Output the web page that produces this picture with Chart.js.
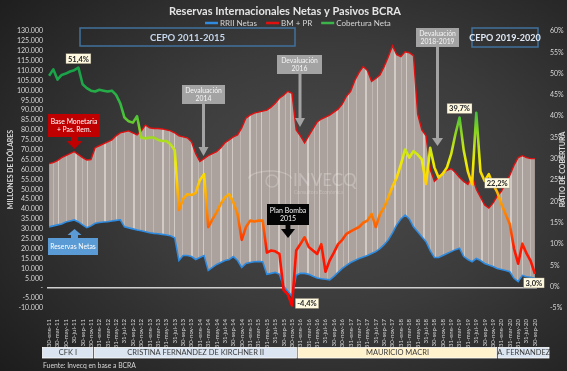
<!DOCTYPE html>
<html>
<head>
<meta charset="utf-8">
<script src="https://cdn.jsdelivr.net/npm/chart.js@4.4.0/dist/chart.umd.min.js"></script>
<style>
html, body { margin: 0; padding: 0; }
body {
    width: 567px; height: 371px; overflow: hidden;
    background: radial-gradient(ellipse 75% 80% at 58% 48%, #4b4b4b 0%, #3b3b3b 45%, #282828 80%, #1d1d1d 100%);
}
#wrap { position: relative; width: 567px; height: 371px; }
</style>
</head>
<body>
<div id="wrap"><canvas id="reservasChart" width="567" height="371"></canvas></div>
<script>
// monthly categories (ene-11 .. sep-20)
const categories = [
    '30-ene-11','28-feb-11','30-mar-11','30-abr-11','30-may-11','30-jun-11','30-jul-11','30-ago-11','30-sep-11','30-oct-11','30-nov-11','30-dic-11',
    '31-ene-12','29-feb-12','31-mar-12','30-abr-12','31-may-12','30-jun-12','31-jul-12','31-ago-12','30-sep-12','31-oct-12','30-nov-12','31-dic-12',
    '31-ene-13','28-feb-13','31-mar-13','30-abr-13','31-may-13','30-jun-13','31-jul-13','31-ago-13','30-sep-13','31-oct-13','30-nov-13','31-dic-13',
    '31-ene-14','28-feb-14','31-mar-14','30-abr-14','31-may-14','30-jun-14','31-jul-14','31-ago-14','30-sep-14','31-oct-14','30-nov-14','31-dic-14',
    '31-ene-15','28-feb-15','31-mar-15','30-abr-15','31-may-15','30-jun-15','31-jul-15','31-ago-15','30-sep-15','31-oct-15','30-nov-15','31-dic-15',
    '31-ene-16','29-feb-16','31-mar-16','30-abr-16','31-may-16','30-jun-16','31-jul-16','31-ago-16','30-sep-16','31-oct-16','30-nov-16','31-dic-16',
    '31-ene-17','28-feb-17','31-mar-17','30-abr-17','31-may-17','30-jun-17','31-jul-17','31-ago-17','30-sep-17','31-oct-17','30-nov-17','31-dic-17',
    '31-ene-18','28-feb-18','31-mar-18','30-abr-18','31-may-18','30-jun-18','31-jul-18','31-ago-18','30-sep-18','31-oct-18','30-nov-18','31-dic-18',
    '31-ene-19','28-feb-19','31-mar-19','30-abr-19','31-may-19','30-jun-19','31-jul-19','31-ago-19','30-sep-19','31-oct-19','30-nov-19','31-dic-19',
    '31-ene-20','29-feb-20','31-mar-20','30-abr-20','31-may-20','30-jun-20','31-jul-20','31-ago-20','30-sep-20'
];

// Base monetaria + pasivos remunerados (millones de USD)
const bmPr = [
    63000, 63500, 64500, 66000, 67000, 68000, 69000, 67500, 66000, 64800, 65000, 71000,
    72000, 73000, 74000, 75000, 77000, 78500, 79000, 79500, 78500, 77500, 79500, 82500,
    81000, 80700, 80700, 80500, 80000, 79500, 78500, 77000, 76500, 76000, 74000, 68000,
    64000, 65500, 67000, 68000, 69000, 71000, 73500, 75000, 76500, 77500, 81000, 86000,
    87500, 88500, 89000, 89500, 90000, 91500, 93500, 96000, 97500, 99500, 98500, 80000,
    77000, 73500, 77000, 80500, 84000, 85500, 86500, 87500, 89000, 90500, 93000, 97000,
    99500, 105000, 109000, 112000, 110000, 104500, 106000, 107700, 112000, 117000, 122500, 118000,
    117000, 119500, 119000, 117500, 88000, 80000, 77000, 60000, 54000, 56000, 58500, 59500,
    60500, 58500, 56000, 54000, 52500, 57000, 50000, 46000, 42000, 40500, 43000, 46500,
    49000, 53000, 57000, 62000, 66000, 67000, 66000, 65500, 65500
];

// Reservas internacionales netas (millones de USD)
const rriiNetas = [
    31000, 31500, 32000, 32500, 33500, 34000, 34500, 33500, 32000, 30600, 31500, 32800,
    33200, 33500, 33600, 34000, 34300, 34600, 31000, 30500, 30000, 29400, 29000, 28500,
    28000, 27700, 27500, 27200, 26900, 26500, 25500, 14000, 16500, 16500, 16000, 14500,
    15500, 16500, 9000, 10500, 12000, 13000, 14000, 14500, 16000, 14000, 10500, 12500,
    13000, 13400, 13500, 13400, 7000, 7500, 8000, 7000, 1000, -1500, -4000, 6500,
    7500, 7500, 7000, 6000, 5200, 4800, 4500, 4200, 6000, 8000, 10000, 11500,
    13000, 14000, 15000, 15800, 16500, 17500, 18500, 20000, 22000, 24500, 28000, 32000,
    35000, 37000, 35000, 31000, 28500, 26000, 23500, 19000, 15500, 15500, 16500, 17500,
    18500, 19500, 20200, 16000, 14500, 13400, 15000, 14000, 12500, 11700, 11000, 10000,
    9500, 9000, 8300, 5000, 3300, 6500, 5800, 5500, 5000
];

// Cobertura neta (%)
const cobertura = [
    49.5, 51.0, 48.6, 49.7, 50.0, 50.5, 50.8, 51.4, 47.5, 46.6, 46.0, 45.8,
    46.2, 46.0, 45.8, 46.0, 45.0, 43.0, 39.7, 38.8, 38.5, 40.0, 35.0, 34.8,
    35.0, 35.0, 34.5, 34.2, 34.2, 33.4, 32.0, 18.0, 20.6, 21.7, 21.5, 22.0,
    25.0, 26.4, 14.0, 15.8, 17.5, 19.5, 21.0, 21.7, 19.8, 17.0, 11.0, 14.0,
    15.5, 15.3, 15.5, 15.5, 8.0, 8.5, 8.3, 7.7, -0.8, -1.8, -4.4, 8.5,
    10.0, 11.6, 9.3, 8.5, 7.7, 10.0, 3.5, 6.2, 8.0, 10.0, 11.0, 12.4,
    13.0, 13.5, 14.0, 15.0, 15.5, 17.1, 14.0, 17.0, 18.6, 21.0, 23.5, 25.6,
    28.7, 32.2, 30.3, 31.8, 31.0, 29.9, 24.1, 32.6, 28.0, 25.6, 26.5, 28.0,
    31.1, 35.7, 39.7, 32.0, 27.0, 24.0, 40.8, 27.0, 24.8, 26.4, 24.0, 22.2,
    19.4, 17.0, 14.7, 9.0, 5.4, 10.1, 7.8, 6.0, 3.0
];

// puntos de cobertura con etiqueta
const labeledPoints = [7, 58, 98, 107, 116];

// periodos de gobierno (limites en indice de mes)
const periodNames = ['CFK I', 'CRISTINA FERNANDEZ DE KIRCHNER II', 'MAURICIO MACRI', 'A. FERNANDEZ'];
const periodEdges = [-1.7, 10.7, 59.3, 107.1, 119.6];
const periodFills = ['#dbe5f1', '#dbe5f1', '#fff2cc', '#dbe5f1'];

const FONT = 'Lato, "Open Sans", sans-serif';

function fmtMiles(v) {
    if (v === 0) return '-';
    const s = String(Math.abs(v)).replace(/\B(?=(\d{3})+(?!\d))/g, '.');
    return (v < 0 ? '-' : '') + s;
}

function fmtPct(v) {
    return v.toFixed(1).replace('.', ',') + '%';
}

const canvas = document.getElementById('reservasChart');
const ctx = canvas.getContext('2d');

// textura rayada del area entre reservas y pasivos
function stripePattern() {
    const c = document.createElement('canvas');
    c.width = 29; c.height = 4;
    const p = c.getContext('2d');
    p.fillStyle = '#aca29d';
    p.fillRect(0, 0, 29, 4);
    p.fillStyle = 'rgba(214,206,202,0.9)';
    p.fillRect(0, 0, 1, 4);
    p.fillRect(17, 0, 2, 4);
    p.fillStyle = 'rgba(206,198,194,0.6)';
    p.fillRect(8, 0, 1, 4);
    p.fillRect(24, 0, 1, 4);
    return ctx.createPattern(c, 'repeat');
}

// color de la cobertura segun nivel
function coberturaGradient(context) {
    const chart = context.chart;
    const area = chart.chartArea;
    if (!area) return '#2ca02c';
    const y2 = chart.scales.y2;
    const lo = -5, hi = 55;
    const g = chart.ctx.createLinearGradient(0, y2.getPixelForValue(lo), 0, y2.getPixelForValue(hi));
    const stops = [
        [-5, '#ff0000'], [9, '#ff1a00'], [13, '#ff5000'], [17, '#ff8000'], [21, '#ffa800'],
        [25, '#ffd400'], [29, '#eeee00'], [33, '#bfe31a'], [37, '#7fd126'], [41, '#3fbf3c'],
        [47, '#1fa84a'], [55, '#139c46']
    ];
    stops.forEach(s => g.addColorStop((s[0] - lo) / (hi - lo), s[1]));
    return g;
}

// cajas de texto y flechas
const callouts = [
    { lines: ['CEPO 2011-2015'], x: 80, y: 28, w: 215, h: 18, stroke: '#41719c', color: '#c5d6ec', font: 'bold 9.5px ' + FONT },
    { lines: ['CEPO 2019-2020'], x: 472, y: 28, w: 66, h: 19, stroke: '#41719c', color: '#dfe8f4', font: 'bold 9px ' + FONT },
    { lines: ['Devaluación', '2014'], x: 182, y: 85, w: 43, h: 19, fill: '#a3a3a3', color: '#f4f4f4', font: '6.8px ' + FONT,
      arrow: { x: 203.5, tip: 156, shaft: 3, head: 10, headLen: 9, color: '#a3a3a3' } },
    { lines: ['Devaluación', '2016'], x: 277, y: 55, w: 45, h: 19, fill: '#a3a3a3', color: '#f4f4f4', font: '6.8px ' + FONT,
      arrow: { x: 300, tip: 127, shaft: 3, head: 10, headLen: 9, color: '#a3a3a3' } },
    { lines: ['Devaluación', '2018-2019'], x: 416, y: 28, w: 43, h: 19, fill: '#a3a3a3', color: '#f4f4f4', font: '6.8px ' + FONT,
      arrow: { x: 437.5, tip: 146, shaft: 3, head: 11, headLen: 8, color: '#a3a3a3' } },
    { lines: ['Plan Bomba', '2015'], x: 267, y: 204, w: 42, h: 21, fill: '#050505', color: '#f4f4f4', font: '7px ' + FONT,
      arrow: { x: 288, tip: 238, shaft: 5, head: 14, headLen: 9, color: '#050505' } },
    { lines: ['Base Monetaria', '+ Pas. Rem.'], x: 48, y: 114, w: 52, h: 23, fill: '#c00000', color: '#ffffff', font: '6.8px ' + FONT,
      arrow: { x: 74.5, tip: 149, shaft: 7, head: 16, headLen: 8, color: '#c00000' } },
    { lines: ['Reservas Netas'], x: 48, y: 238, w: 50, h: 17, fill: '#5b9bd5', color: '#ffffff', font: '6.8px ' + FONT,
      arrow: { x: 74.5, tip: 229, shaft: 7, head: 14, headLen: 6, color: '#5b9bd5', up: true } }
];

const labelOffsets = { 7: [0, -9], 58: [15, -2], 98: [0, -9], 107: [0, -9], 116: [-1, 9] };

function drawArrow(c, a, from) {
    const dir = a.tip > from ? 1 : -1;
    const base = a.tip - dir * a.headLen;
    c.fillStyle = a.color;
    c.fillRect(a.x - a.shaft / 2, Math.min(from, base), a.shaft, Math.abs(base - from));
    c.beginPath();
    c.moveTo(a.x - a.head / 2, base);
    c.lineTo(a.x + a.head / 2, base);
    c.lineTo(a.x, a.tip);
    c.closePath();
    c.fill();
}

function drawLines(c, lines, cx, cy, font, color) {
    c.font = font;
    c.fillStyle = color;
    c.textAlign = 'center';
    c.textBaseline = 'middle';
    const size = parseFloat(font.match(/([\d.]+)px/)[1]);
    const lh = size * 1.2;
    const y0 = cy - (lines.length - 1) * lh / 2;
    lines.forEach((t, i) => c.fillText(t, cx, y0 + i * lh));
}

const decorPlugin = {
    id: 'decor',
    afterDatasetsDraw(chart) {
        // marca de agua
        const c = chart.ctx;
        c.save();
        c.strokeStyle = 'rgba(255,255,255,0.22)';
        c.lineWidth = 1.5;
        c.beginPath();
        c.ellipse(270, 180, 22, 9, 0, Math.PI * 1.05, Math.PI * 1.95);
        c.stroke();
        c.beginPath();
        c.arc(272, 181, 6, 0, Math.PI * 2);
        c.stroke();
        c.font = '17px ' + FONT;
        c.fillStyle = 'rgba(255,255,255,0.25)';
        c.textAlign = 'left';
        c.textBaseline = 'middle';
        c.fillText('INVECQ', 293, 181);
        c.font = '5px ' + FONT;
        c.fillText('Consultora Económica', 294, 192);
        c.restore();
    },
    afterDraw(chart) {
        const c = chart.ctx;
        const xs = chart.scales.x;
        const y2 = chart.scales.y2;
        const area = chart.chartArea;
        c.save();

        // titulo
        c.font = 'bold 11px ' + FONT;
        c.fillStyle = '#e4e4e4';
        c.textAlign = 'center';
        c.textBaseline = 'middle';
        c.fillText('Reservas Internacionales Netas y Pasivos BCRA', 285, 11);

        // leyenda
        const legendColors = ['#2e8be0', '#e01010', '#3cb44a'];
        let lx = 205;
        c.font = '8px ' + FONT;
        c.textAlign = 'left';
        chart.data.datasets.forEach((ds, i) => {
            c.strokeStyle = legendColors[i];
            c.lineWidth = 2.5;
            c.beginPath();
            c.moveTo(lx, 23);
            c.lineTo(lx + 13, 23);
            c.stroke();
            c.fillStyle = '#d6d6d6';
            c.fillText(ds.label, lx + 15, 23.5);
            lx += 15 + c.measureText(ds.label).width + 9;
        });

        // titulo eje derecho
        c.save();
        c.translate(562.5, (area.top + area.bottom) / 2);
        c.rotate(-Math.PI / 2);
        c.font = 'bold 7px ' + FONT;
        c.fillStyle = '#d6d6d6';
        c.textAlign = 'center';
        c.fillText('RATIO DE COBERTURA', 0, 0);
        c.restore();

        // cajas y flechas
        callouts.forEach(b => {
            if (b.fill) {
                c.fillStyle = b.fill;
                c.fillRect(b.x, b.y, b.w, b.h);
            }
            if (b.stroke) {
                c.strokeStyle = b.stroke;
                c.lineWidth = 1.5;
                c.strokeRect(b.x, b.y, b.w, b.h);
            }
            drawLines(c, b.lines, b.x + b.w / 2, b.y + b.h / 2 + 0.5, b.font, b.color);
            if (b.arrow) drawArrow(c, b.arrow, b.arrow.up ? b.y : b.y + b.h);
        });

        // etiquetas de cobertura
        c.font = 'bold 7.5px ' + FONT;
        labeledPoints.forEach(i => {
            const t = fmtPct(cobertura[i]);
            const off = labelOffsets[i];
            const px = xs.getPixelForValue(i) + off[0];
            const py = y2.getPixelForValue(cobertura[i]) + off[1];
            const w = c.measureText(t).width + 4;
            c.fillStyle = '#fff9e0';
            c.fillRect(px - w / 2, py - 5, w, 10);
            c.strokeStyle = 'rgba(120,110,90,0.6)';
            c.lineWidth = 0.5;
            c.strokeRect(px - w / 2, py - 5, w, 10);
            c.fillStyle = '#262626';
            c.textAlign = 'center';
            c.textBaseline = 'middle';
            c.fillText(t, px, py + 0.5);
        });

        // barra de periodos
        const step = xs.getPixelForValue(1) - xs.getPixelForValue(0);
        for (let k = 0; k < periodNames.length; k++) {
            const x0 = xs.getPixelForValue(0) + periodEdges[k] * step;
            const x1 = xs.getPixelForValue(0) + periodEdges[k + 1] * step;
            c.fillStyle = periodFills[k];
            c.fillRect(x0 + 0.5, 347.5, x1 - x0 - 1.5, 10.5);
            c.strokeStyle = '#ffffff';
            c.lineWidth = 0.8;
            c.strokeRect(x0 + 0.5, 347.5, x1 - x0 - 1.5, 10.5);
            drawLines(c, [periodNames[k]], (x0 + x1) / 2, 353, '7.5px ' + FONT, '#3a3a3a');
        }

        // fuente
        c.font = '6.8px ' + FONT;
        c.fillStyle = '#d6d6d6';
        c.textAlign = 'left';
        c.textBaseline = 'middle';
        c.fillText('Fuente: Invecq en base a BCRA', 43, 366);
        c.restore();
    }
};

const reservasChart = new Chart(ctx, {
    type: 'line',
    data: {
        labels: categories,
        datasets: [
            {
                label: 'RRII Netas',
                data: rriiNetas,
                borderColor: '#2e8be0',
                borderWidth: 1.6,
                pointRadius: 0,
                yAxisID: 'y',
                order: 1
            },
            {
                label: 'BM + PR',
                data: bmPr,
                borderColor: '#e01010',
                borderWidth: 1.4,
                pointRadius: 0,
                backgroundColor: stripePattern(),
                fill: { target: 0 },
                yAxisID: 'y',
                order: 2
            },
            {
                label: 'Cobertura Neta',
                data: cobertura,
                borderColor: coberturaGradient,
                borderWidth: 2.6,
                borderJoinStyle: 'round',
                pointRadius: 0,
                yAxisID: 'y2',
                order: 0
            }
        ]
    },
    options: {
        responsive: false,
        animation: false,
        devicePixelRatio: 1,
        layout: { padding: { top: 31, left: 0, right: 0, bottom: 23 } },
        plugins: {
            legend: { display: false },
            title: { display: false },
            tooltip: { enabled: false }
        },
        scales: {
            x: {
                type: 'category',
                offset: true,
                grid: { display: false },
                border: { display: false },
                ticks: {
                    autoSkip: false,
                    maxRotation: 90,
                    minRotation: 90,
                    padding: 3,
                    color: '#d6d6d6',
                    font: { family: FONT, size: 6 },
                    callback: function (value, index) {
                        return index % 2 === 0 ? this.getLabelForValue(value) : '';
                    }
                },
                afterFit: function (scale) { scale.height = 40; }
            },
            y: {
                position: 'left',
                min: -10000,
                max: 130000,
                grid: {
                    drawTicks: false,
                    lineWidth: 1.6,
                    color: c => (c.tick && c.tick.value === 0) ? '#cfcfcf' : 'rgba(0,0,0,0)'
                },
                border: { display: false },
                ticks: {
                    stepSize: 5000,
                    autoSkip: false,
                    padding: 4,
                    color: '#d6d6d6',
                    font: { family: FONT, size: 7 },
                    callback: v => fmtMiles(v)
                },
                title: {
                    display: true,
                    text: 'MILLONES DE DÓLARES',
                    color: '#d6d6d6',
                    font: { family: FONT, size: 7, weight: 'bold' },
                    padding: { top: 7, bottom: 0 }
                },
                afterFit: function (scale) { scale.width = 47; }
            },
            y2: {
                position: 'right',
                min: -5,
                max: 60,
                grid: { display: false },
                border: { display: false },
                ticks: {
                    stepSize: 5,
                    autoSkip: false,
                    padding: 5,
                    color: '#d6d6d6',
                    font: { family: FONT, size: 7 },
                    callback: v => v + '%'
                },
                afterFit: function (scale) { scale.width = 30; }
            }
        }
    },
    plugins: [decorPlugin]
});
</script>
</body>
</html>
